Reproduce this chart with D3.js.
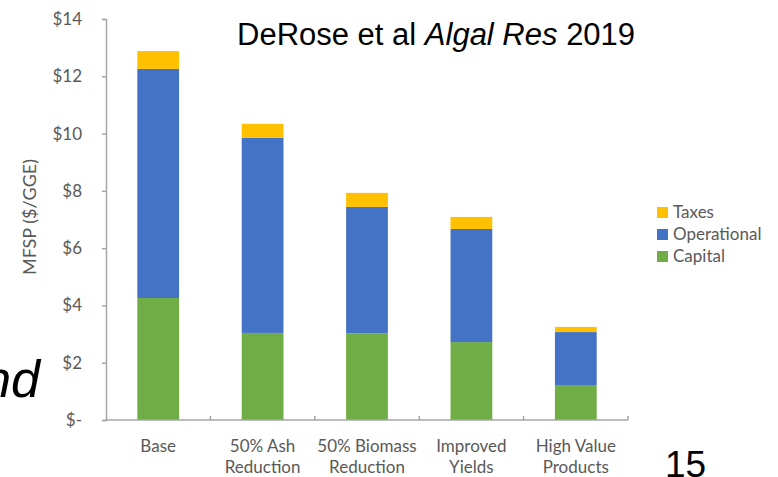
<!DOCTYPE html>
<html>
<head>
<meta charset="utf-8">
<script src="https://cdn.jsdelivr.net/npm/d3@7"></script>
<style>
  body { margin: 0; background: #fff; }
  svg { display: block; }
</style>
</head>
<body>
<script>
// data
var categories = ["Base", "50% Ash Reduction", "50% Biomass Reduction", "Improved Yields", "High Value Products"];
var labelLines = [["Base"], ["50% Ash", "Reduction"], ["50% Biomass", "Reduction"], ["Improved", "Yields"], ["High Value", "Products"]];
var capital = [4.26, 3.04, 3.03, 2.72, 1.22];
var operational = [8.00, 6.81, 4.41, 3.95, 1.85];
var taxes = [0.62, 0.49, 0.49, 0.42, 0.18];
var seriesNames = ["Capital", "Operational", "Taxes"];
var yTicks = [0, 2, 4, 6, 8, 10, 12, 14];

var colors = {Capital: "#70ad47", Operational: "#4472c4", Taxes: "#ffc000"};
var textColor = "#595959";
var axisColor = "#a6a6a6";
var font = "Lato, 'Open Sans', sans-serif";

var width = 778, height = 477;

var svg = d3.select("body").append("svg")
    .attr("width", width)
    .attr("height", height);

var rows = categories.map(function(c, i) {
    return {cat: c, Capital: capital[i], Operational: operational[i], Taxes: taxes[i]};
});

var x = d3.scaleBand().domain(categories).range([106, 628]);
var y = d3.scaleLinear().domain([0, 14]).range([420, 19]);

var stack = d3.stack().keys(seriesNames)(rows);
var barW = x.bandwidth() * 0.4;

// bars
svg.append("g").selectAll("g")
    .data(stack)
    .enter().append("g")
    .attr("fill", function(d) { return colors[d.key]; })
    .selectAll("rect")
    .data(function(d) { return d; })
    .enter().append("rect")
    .attr("x", function(d) { return x(d.data.cat) + (x.bandwidth() - barW) / 2; })
    .attr("y", function(d) { return y(d[1]); })
    .attr("width", barW)
    .attr("height", function(d) { return y(d[0]) - y(d[1]); });

// y axis
var yAxis = svg.append("g")
    .attr("transform", "translate(106,0)")
    .call(d3.axisLeft(y).tickValues(yTicks).tickSize(4).tickPadding(20)
        .tickFormat(function(v) { return v === 0 ? "$-" : "$" + v; }));
yAxis.select(".domain").attr("stroke", axisColor).attr("stroke-width", 1.5);
yAxis.selectAll(".tick line").attr("stroke", axisColor).attr("stroke-width", 1.5);
yAxis.selectAll(".tick text")
    .attr("fill", textColor)
    .style("font-family", font)
    .style("font-size", "17px");

// x axis (tick marks between categories, pointing up)
var xAxis = svg.append("g")
    .attr("transform", "translate(0,420)");
xAxis.append("line")
    .attr("x1", x.range()[0]).attr("x2", x.range()[1])
    .attr("stroke", axisColor).attr("stroke-width", 1.5);
xAxis.selectAll(".sep")
    .data(categories)
    .enter().append("line")
    .attr("class", "sep")
    .attr("x1", function(d) { return x(d) + x.bandwidth(); })
    .attr("x2", function(d) { return x(d) + x.bandwidth(); })
    .attr("y1", 0).attr("y2", -4)
    .attr("stroke", axisColor).attr("stroke-width", 1.5);

var xl = svg.append("g");
labelLines.forEach(function(lines, i) {
    var t = xl.append("text")
        .attr("x", x(categories[i]) + x.bandwidth() / 2)
        .attr("y", 452)
        .attr("text-anchor", "middle")
        .attr("fill", textColor)
        .style("font-family", font)
        .style("font-size", "17px");
    lines.forEach(function(l, j) {
        t.append("tspan")
            .attr("x", x(categories[i]) + x.bandwidth() / 2)
            .attr("dy", j === 0 ? 0 : 21)
            .text(l);
    });
});

// y axis title
svg.append("text")
    .attr("transform", "translate(36,217) rotate(-90)")
    .attr("text-anchor", "middle")
    .attr("fill", textColor)
    .style("font-family", font)
    .style("font-size", "18px")
    .text("MFSP ($/GGE)");

// legend
var legendOrder = ["Taxes", "Operational", "Capital"];
var lg = svg.append("g").attr("transform", "translate(657,212)");
legendOrder.forEach(function(k, i) {
    var row = lg.append("g").attr("transform", "translate(0," + (i * 22) + ")");
    row.append("rect")
        .attr("x", 0).attr("y", -5)
        .attr("width", 11).attr("height", 11)
        .attr("fill", colors[k]);
    row.append("text")
        .attr("x", 16).attr("y", 6)
        .attr("fill", textColor)
        .style("font-family", font)
        .style("font-size", "17px")
        .text(k);
});

// citation at top
var cite = svg.append("text")
    .attr("x", 237).attr("y", 45)
    .attr("fill", "#000")
    .style("font-family", "'Liberation Sans', Arial, sans-serif")
    .style("font-size", "31px");
cite.append("tspan").text("DeRose et al ");
cite.append("tspan").style("font-style", "italic").text("Algal Res");
cite.append("tspan").text(" 2019");

// slide leftovers
svg.append("text")
    .attr("x", 40).attr("y", 397)
    .attr("text-anchor", "end")
    .attr("fill", "#000")
    .style("font-family", "'Liberation Sans', Arial, sans-serif")
    .style("font-style", "italic")
    .style("font-size", "52px")
    .text("and");

svg.append("text")
    .attr("x", 665).attr("y", 477)
    .attr("fill", "#000")
    .style("font-family", "'Liberation Sans', Arial, sans-serif")
    .style("font-size", "37px")
    .text("15");
</script>
</body>
</html>
